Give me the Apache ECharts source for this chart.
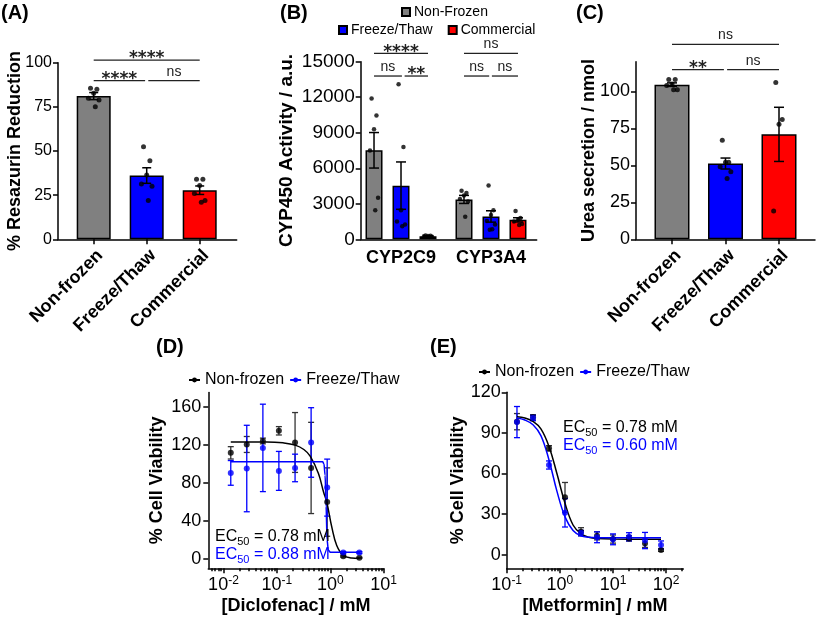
<!DOCTYPE html>
<html><head><meta charset="utf-8">
<script src="https://cdn.jsdelivr.net/npm/echarts@6/dist/echarts.min.js"></script>
<style>html,body{margin:0;padding:0;background:#fff}#c{width:817px;height:621px}</style>
</head><body><div id="c"></div>
<script>
// ---------------- DATA ----------------
const catsTop = ['Non-frozen', 'Freeze/Thaw', 'Commercial'];

// (A) % Resazurin Reduction
const A_mean = [81.1, 36.1, 27.8];
const A_sem = [2.0, 4.4, 2.4];
const A_dotsNonFrozen = [85.5, 84.9, 82.7, 79.8, 78.9, 75.0];
const A_dotsFreeze = [52.4, 44.5, 36.4, 31.3, 30.0, 21.9];
const A_dotsComm = [34, 34, 30.4, 26, 22, 21];
const A_sig = [[0, 2, 101.5, '****'], [0, 0.97, 89.8, '****'], [1.03, 2, 89.8, 'ns']];

// (B) CYP450 activity
const B_cats = ['CYP2C9', 'CYP3A4'];
const B_names = ['Non-Frozen', 'Freeze/Thaw', 'Commercial'];
const B_meanNonFrozen = [7517, 3367];
const B_meanFreeze = [4533, 1929];
const B_meanComm = [262, 1642];
const B_semNonFrozen = [1500, 340];
const B_semFreeze = [2000, 480];
const B_semComm = [40, 180];
const B_dotsNonFrozen = [[11900, 10450, 9300, 7500, 3500, 2450], [4100, 3900, 3700, 3400, 3200, 1900]];
const B_dotsFreeze = [[13100, 7800, 2450, 1500, 1250, 1100], [4550, 2450, 2050, 1550, 1250, 850, 800]];
const B_dotsComm = [[320, 300, 280, 250, 220, 200], [2400, 1800, 1650, 1500, 1300, 1200]];
const B_sig = [[-0.3, 0.3, 15700, '****'], [-0.3, 0.01, 13790, 'ns'], [0.04, 0.3, 13790, '**'],
               [0.7, 1.3, 15700, 'ns'], [0.7, 0.98, 13790, 'ns'], [1.01, 1.3, 13790, 'ns']];

// (C) Urea secretion
const C_mean = [104.5, 51.2, 70.9];
const C_sem = [1.2, 3.7, 18.3];
const C_dotsNonFrozen = [108, 108, 105, 104, 101, 101];
const C_dotsFreeze = [67, 52, 52, 49, 45.6, 41.1];
const C_dotsComm = [105.9, 80.9, 77.7, 19.1];
const C_sig = [[0, 2, 131.7, 'ns'], [0, 0.97, 114.6, '**'], [1.03, 2, 114.6, 'ns']];

// (D) Diclofenac
const D_conc = [0.0137, 0.0273, 0.0547, 0.109, 0.219, 0.4375, 0.875, 1.75, 3.5];
const D_nf = [111.5, 120.3, 124, 134.7, 122.4, 95.6, 59.7, 2.8, 1];
const D_nfErr = [6.5, 8.4, 3, 4.4, 31.5, 48, 36, 1, 0.5];
const D_ft = [90.4, 95, 116.7, 92.5, 95.6, 122.4, 74.9, 6.5, 6.5];
const D_ftErr = [13, 45.5, 46, 20.5, 14.5, 36.6, 30, 1, 1];
const D_fitNfX = [0.0137, 0.03, 0.065, 0.13, 0.22, 0.32, 0.42, 0.6, 0.75, 0.86, 1.07, 1.32, 1.76, 2.5, 3.5];
const D_fitNfY = [123, 123, 123, 122, 119.6, 115, 108, 89.7, 70, 59.7, 33, 14, 3.5, 0.8, 0.3];
const D_fitFtX = [0.0137, 0.72, 0.76, 0.8, 0.835, 0.87, 0.92, 1.0, 3.5];
const D_fitFtY = [102, 102, 100, 88, 55, 20, 9, 7, 7];
const D_ec50 = ['0.78', '0.88'];

// (E) Metformin
const E_conc = [0.156, 0.3125, 0.625, 1.25, 2.5, 5, 10, 20, 40, 80];
const E_nf = [98.3, 101.5, 78.6, 42.4, 17, 14, 11.6, 12.1, 8.4, 3.5];
const E_nfErr = [6, 2, 2, 11, 3, 3, 3, 2, 3, 1];
const E_ft = [98, 101, 66.3, 31, 16, 12.9, 11.4, 13.3, 10.5, 7.2];
const E_ftErr = [11.5, 2, 3, 10.5, 2, 4, 4, 3, 6, 3];
const E_fitX = [0.156, 0.22, 0.3125, 0.44, 0.625, 0.88, 1.25, 1.77, 2.5, 3.5, 5, 10, 80];
const E_fitNfY = [102, 101, 98.5, 93, 80, 60, 38, 22, 15.5, 13, 12, 11.6, 11.5];
const E_fitFtY = [101, 99.5, 96, 88, 70, 47, 28, 18, 14, 13, 12.6, 12.5, 12.5];
const E_ec50 = ['0.78', '0.60'];

// ---------------- STYLE / HELPERS ----------------
const FONT = "'Liberation Sans', Arial, Helvetica, sans-serif";
const COLORS = ['#808080', '#0000ff', '#ff0000'];
const BLUE = '#0000ff';
const JIT = [-0.6, 0.6, 0.0, -1.0, 1.0, 0.3, -0.3];

function errRender(capW, color, lw) {
  return function (params, api) {
    const x = api.value(0), lo = api.value(1), hi = api.value(2);
    const p1 = api.coord([x, hi]), p2 = api.coord([x, lo]);
    const st = { stroke: color, lineWidth: lw };
    return { type: 'group', children: [
      { type: 'line', shape: { x1: p1[0], y1: p1[1], x2: p2[0], y2: p2[1] }, style: st },
      { type: 'line', shape: { x1: p1[0] - capW / 2, y1: p1[1], x2: p1[0] + capW / 2, y2: p1[1] }, style: st },
      { type: 'line', shape: { x1: p2[0] - capW / 2, y1: p2[1], x2: p2[0] + capW / 2, y2: p2[1] }, style: st }
    ]};
  };
}
function sigRender(list) {
  return function (params, api) {
    const it = list[params.dataIndex];
    const a = api.coord([it[0], it[2]]), b = api.coord([it[1], it[2]]);
    const star = it[3].indexOf('*') >= 0;
    return { type: 'group', children: [
      { type: 'line', shape: { x1: a[0], y1: a[1], x2: b[0], y2: b[1] }, style: { stroke: '#222', lineWidth: 1.3 } },
      { type: 'text', style: {
        text: it[3], x: (a[0] + b[0]) / 2, y: star ? a[1] - 1 : a[1] - 2,
        align: 'center', verticalAlign: star ? 'middle' : 'bottom',
        fontFamily: star ? "'DejaVu Sans'" : FONT, fontWeight: star ? 'bold' : 'normal',
        fontSize: star ? 17 : 14, fill: '#222' } }
    ]};
  };
}
function sigSeries(list, xi, yi) {
  return { type: 'custom', xAxisIndex: xi, yAxisIndex: yi, clip: false, z: 5, silent: true,
    encode: { x: [0, 1], y: 2 }, renderItem: sigRender(list),
    data: list.map(d => [d[0], d[1], d[2]]) };
}
function errSeries(data, xi, yi, capW, color, lw, z) {
  return { type: 'custom', xAxisIndex: xi, yAxisIndex: yi, clip: false, z: z || 4, silent: true,
    encode: { x: 0, y: [1, 2] }, renderItem: errRender(capW, color, lw), data: data };
}
function dots(groups, posFn, w) {
  const out = [];
  groups.forEach((arr, g) => arr.forEach((v, i) => out.push([posFn(g) + JIT[i % JIT.length] * w, v])));
  return out;
}
const axisLine = { show: true, onZero: false, lineStyle: { color: '#000', width: 1.5 } };
const hiddenLine = { show: true, onZero: false, lineStyle: { color: 'rgba(0,0,0,0)', width: 0 } };
const axisTick = (len, extra) => Object.assign({ show: true, length: len, lineStyle: { color: '#000', width: 1.5 } }, extra || {});
const noSplit = { show: false };
const plain = v => String(v);
function logLabel(fs) {
  return {
    color: '#000', margin: 6,
    formatter: v => '{b|10}{s|' + Math.round(Math.log10(v)) + '}',
    rich: { b: { fontSize: fs, fontFamily: FONT, color: '#000', lineHeight: fs + 4 },
            s: { fontSize: Math.round(fs * 0.68), fontFamily: FONT, color: '#000', verticalAlign: 'top' } }
  };
}
function minorTicks(lo, hi) {
  const out = [];
  for (let e = -4; e <= 3; e++) for (let k = 2; k <= 9; k++) {
    const v = k * Math.pow(10, e);
    if (v > lo && v < hi) out.push(v);
  }
  return out;
}
const nameStyle = fs => ({ fontWeight: 'bold', fontSize: fs, fontFamily: FONT, color: '#000' });
const catLabel = (cats) => ({ customValues: [0, 1, 2], formatter: v => cats[Math.round(v)], rotate: 45, margin: 7,
  verticalAlign: 'top', fontWeight: 'bold', fontSize: 18, fontFamily: FONT, color: '#000' });

// ---------------- GRIDS ----------------
const grids = [
  { left: 58, top: 62.7, width: 178.7, height: 176.6 },      // A
  { left: 360.7, top: 61.7, width: 176, height: 177.6 },     // B
  { left: 636, top: 61.7, width: 179, height: 177.6 },       // C
  { left: 208.3, top: 392.5, width: 175.4, height: 175.8 },  // D
  { left: 506.7, top: 392.3, width: 176.6, height: 176 }     // E
].map(g => Object.assign({ containLabel: false, outerBoundsMode: 'none' }, g));

const A_unit = 53, A_c0 = 93.7;
const C_unit = 53.5, C_c0 = 672;
const D_min = 0.0052, D_max = 10, E_min = 0.1, E_max = 210;

const xAxes = [
  { gridIndex: 0, type: 'value', min: (58 - A_c0) / A_unit, max: (236.7 - A_c0) / A_unit,
    axisLine, splitLine: noSplit,
    axisTick: axisTick(5, { customValues: [0, 1, 2] }),
    axisLabel: catLabel(catsTop) },
  { gridIndex: 1, type: 'value', min: -0.448, max: 1.508, axisLine, splitLine: noSplit,
    axisTick: { show: false },
    axisLabel: { customValues: [0, 1], formatter: v => B_cats[Math.round(v)], margin: 10,
      fontWeight: 'bold', fontSize: 18, fontFamily: FONT, color: '#000' } },
  { gridIndex: 2, type: 'value', min: (636 - C_c0) / C_unit, max: (815 - C_c0) / C_unit,
    axisLine, splitLine: noSplit,
    axisTick: axisTick(5, { customValues: [0, 1, 2] }),
    axisLabel: catLabel(catsTop) },
  { gridIndex: 3, type: 'log', min: D_min, max: D_max, position: 'bottom', axisLine, splitLine: noSplit,
    axisTick: axisTick(5, { customValues: [0.01, 0.1, 1, 10] }),
    axisLabel: Object.assign({ customValues: [0.01, 0.1, 1, 10] }, logLabel(18)),
    name: '[Diclofenac] / mM', nameLocation: 'middle', nameGap: 29, nameTextStyle: nameStyle(18) },
  { gridIndex: 3, type: 'log', min: D_min, max: D_max, position: 'bottom', axisLine: hiddenLine,
    splitLine: noSplit, axisLabel: { show: false },
    axisTick: axisTick(3, { customValues: minorTicks(D_min, D_max) }) },
  { gridIndex: 4, type: 'log', min: E_min, max: E_max, position: 'bottom', axisLine, splitLine: noSplit,
    axisTick: axisTick(5, { customValues: [0.1, 1, 10, 100] }),
    axisLabel: Object.assign({ customValues: [0.1, 1, 10, 100] }, logLabel(18)),
    name: '[Metformin] / mM', nameLocation: 'middle', nameGap: 29, nameTextStyle: nameStyle(18) },
  { gridIndex: 4, type: 'log', min: E_min, max: E_max, position: 'bottom', axisLine: hiddenLine,
    splitLine: noSplit, axisLabel: { show: false },
    axisTick: axisTick(3, { customValues: minorTicks(E_min, E_max) }) }
];

const yAxes = [
  { gridIndex: 0, type: 'value', min: 0, max: 100, interval: 25, axisLine, axisTick: axisTick(5), splitLine: noSplit,
    axisLabel: { fontSize: 16, fontFamily: FONT, color: '#000', margin: 6, formatter: plain },
    name: '% Resazurin Reduction', nameLocation: 'middle', nameGap: 34, nameMoveOverlap: false, nameTextStyle: nameStyle(18) },
  { gridIndex: 1, type: 'value', min: 0, max: 15000, interval: 3000, axisLine, axisTick: axisTick(5), splitLine: noSplit,
    axisLabel: { fontSize: 19, fontFamily: FONT, color: '#000', margin: 6, formatter: plain },
    name: 'CYP450 Activity / a.u.', nameLocation: 'middle', nameGap: 64, nameMoveOverlap: false, nameTextStyle: nameStyle(19) },
  { gridIndex: 2, type: 'value', min: 0, max: 120, axisLine, splitLine: noSplit,
    axisTick: axisTick(5, { customValues: [0, 25, 50, 75, 100] }),
    axisLabel: { customValues: [0, 25, 50, 75, 100], fontSize: 18, fontFamily: FONT, color: '#000', margin: 6, formatter: plain },
    name: 'Urea secretion / nmol', nameLocation: 'middle', nameGap: 38, nameMoveOverlap: false, nameTextStyle: nameStyle(18) },
  { gridIndex: 3, type: 'value', min: -10, max: 175, axisLine, splitLine: noSplit,
    axisTick: axisTick(5, { customValues: [0, 40, 80, 120, 160] }),
    axisLabel: { customValues: [0, 40, 80, 120, 160], fontSize: 18, fontFamily: FONT, color: '#000', margin: 7, formatter: plain },
    name: '% Cell Viability', nameLocation: 'middle', nameGap: 42, nameMoveOverlap: false, nameTextStyle: nameStyle(18) },
  { gridIndex: 4, type: 'value', min: -10, max: 120, axisLine, splitLine: noSplit,
    axisTick: axisTick(5, { customValues: [0, 30, 60, 90, 120] }),
    axisLabel: { customValues: [0, 30, 60, 90, 120], fontSize: 18, fontFamily: FONT, color: '#000', margin: 6, formatter: plain },
    name: '% Cell Viability', nameLocation: 'middle', nameGap: 40, nameMoveOverlap: false, nameTextStyle: nameStyle(18) }
];

// ---------------- SERIES ----------------
const series = [];
const barBorder = { borderColor: '#000', borderWidth: 1.5 };

// A
series.push({ name: 'A|bars', type: 'bar', xAxisIndex: 0, yAxisIndex: 0, barWidth: 34, z: 2,
  data: A_mean.map((m, i) => ({ value: [i, m], itemStyle: Object.assign({ color: COLORS[i] }, barBorder) })) });
series.push(errSeries(A_mean.map((m, i) => [i, m - A_sem[i], m + A_sem[i]]), 0, 0, 9, '#000', 1.5));
series.push({ name: 'A|dots', type: 'scatter', xAxisIndex: 0, yAxisIndex: 0, symbolSize: 5, z: 6,
  itemStyle: { color: '#000' }, data: dots([A_dotsNonFrozen, A_dotsFreeze, A_dotsComm], g => g, 0.1) });
series.push(sigSeries(A_sig, 0, 0));

// B
const B_means = [B_meanNonFrozen, B_meanFreeze, B_meanComm];
const B_sems = [B_semNonFrozen, B_semFreeze, B_semComm];
const B_dotsAll = [B_dotsNonFrozen, B_dotsFreeze, B_dotsComm];
const B_off = [-0.3, 0, 0.3];
B_names.forEach((nm, s) => {
  series.push({ name: nm, type: 'bar', xAxisIndex: 1, yAxisIndex: 1, barWidth: 17, barGap: '-100%', z: 2,
    itemStyle: Object.assign({ color: COLORS[s] }, barBorder),
    data: B_means[s].map((m, g) => [g + B_off[s], m]) });
  series.push(errSeries(B_means[s].map((m, g) => [g + B_off[s], m - B_sems[s][g], m + B_sems[s][g]]), 1, 1, 10, '#000', 1.5));
  series.push({ name: 'B|dots' + s, type: 'scatter', xAxisIndex: 1, yAxisIndex: 1, symbolSize: 4.5, z: 6,
    itemStyle: { color: '#000' }, data: dots(B_dotsAll[s], g => g + B_off[s], 0.045) });
});
series.push(sigSeries(B_sig, 1, 1));

// C
series.push({ name: 'C|bars', type: 'bar', xAxisIndex: 2, yAxisIndex: 2, barWidth: 35, z: 2,
  data: C_mean.map((m, i) => ({ value: [i, m], itemStyle: Object.assign({ color: COLORS[i] }, barBorder) })) });
series.push(errSeries(C_mean.map((m, i) => [i, m - C_sem[i], m + C_sem[i]]), 2, 2, 10, '#000', 1.5));
series.push({ name: 'C|dots', type: 'scatter', xAxisIndex: 2, yAxisIndex: 2, symbolSize: 5, z: 6,
  itemStyle: { color: '#000' }, data: dots([C_dotsNonFrozen, C_dotsFreeze, C_dotsComm], g => g, 0.1) });
series.push(sigSeries(C_sig, 2, 2));

// D / E
function doseSeries(prefix, xi, yi, conc, nf, nfErr, ft, ftErr, fitNfX, fitNfY, fitFtX, fitFtY, ftMono) {
  const out = [];
  out.push(errSeries(conc.map((c, i) => [c, nf[i] - nfErr[i], nf[i] + nfErr[i]]), xi, yi, 6, '#333', 1.3, 3));
  out.push(errSeries(conc.map((c, i) => [c, ft[i] - ftErr[i], ft[i] + ftErr[i]]), xi, yi, 6, BLUE, 1.3, 3));
  out.push({ name: prefix + '|Non-frozen', type: 'line', xAxisIndex: xi, yAxisIndex: yi, symbol: 'circle',
    showSymbol: false, smooth: 0.4, z: 4, color: '#000',
    lineStyle: { color: '#000', width: 1.5 }, data: fitNfX.map((x, i) => [x, fitNfY[i]]) });
  out.push(Object.assign({ name: prefix + '|Freeze/Thaw', type: 'line', xAxisIndex: xi, yAxisIndex: yi, symbol: 'circle',
    showSymbol: false, smooth: ftMono ? 0.3 : 0.4, z: 4, color: BLUE,
    lineStyle: { color: BLUE, width: 1.5 }, data: fitFtX.map((x, i) => [x, fitFtY[i]]) },
    ftMono ? { smoothMonotone: 'x' } : {}));
  out.push({ name: prefix + '|ptsNF', type: 'scatter', xAxisIndex: xi, yAxisIndex: yi, symbolSize: 6, z: 6,
    itemStyle: { color: '#000' }, data: conc.map((c, i) => [c, nf[i]]) });
  out.push({ name: prefix + '|ptsFT', type: 'scatter', xAxisIndex: xi, yAxisIndex: yi, symbolSize: 6, z: 6,
    itemStyle: { color: BLUE }, data: conc.map((c, i) => [c, ft[i]]) });
  return out;
}
series.push(...doseSeries('D', 3, 3, D_conc, D_nf, D_nfErr, D_ft, D_ftErr, D_fitNfX, D_fitNfY, D_fitFtX, D_fitFtY, true));
series.push(...doseSeries('E', 5, 4, E_conc, E_nf, E_nfErr, E_ft, E_ftErr, E_fitX, E_fitNfY, E_fitX, E_fitFtY, false));

// ---------------- LEGENDS & TEXT ----------------
const legFmt = n => n.split('|').pop();
const legends = [
  { data: ['Non-Frozen'], left: 401, top: 5, padding: 0, icon: 'rect', itemWidth: 8, itemHeight: 8, itemGap: 15,
    selectedMode: false, formatter: legFmt, textStyle: { fontSize: 14, fontFamily: FONT, color: '#000', padding: [0, 0, 0, -1] } },
  { data: ['Freeze/Thaw', 'Commercial'], left: 338, top: 23, padding: 0, icon: 'rect', itemWidth: 8, itemHeight: 8, itemGap: 15,
    selectedMode: false, formatter: legFmt, textStyle: { fontSize: 14, fontFamily: FONT, color: '#000', padding: [0, 0, 0, -1] } },
  { data: ['D|Non-frozen', 'D|Freeze/Thaw'], left: 188, top: 372, padding: 0, itemWidth: 11, itemHeight: 6, itemGap: 5,
    selectedMode: false, formatter: legFmt, textStyle: { fontSize: 16, fontFamily: FONT, color: '#000' } },
  { data: ['E|Non-frozen', 'E|Freeze/Thaw'], left: 478, top: 364, padding: 0, itemWidth: 11, itemHeight: 6, itemGap: 5,
    selectedMode: false, formatter: legFmt, textStyle: { fontSize: 16, fontFamily: FONT, color: '#000' } }
];

const ecRich = { n: { fontSize: 16, fontFamily: FONT, lineHeight: 20 }, s: { fontSize: 11, fontFamily: FONT, verticalAlign: 'bottom' } };
function ecText(left, top, val, color) {
  return { type: 'text', left: left, top: top, z: 100,
    style: { text: '{n|EC}{s|50}{n| = ' + val + ' mM}', rich: ecRich, fill: color } };
}
function panelLabel(left, top, t) {
  return { type: 'text', left: left, top: top, z: 100,
    style: { text: t, fontSize: 20, fontWeight: 'bold', fontFamily: FONT, fill: '#000' } };
}
const graphic = [
  panelLabel(1, 3, '(A)'), panelLabel(280, 3, '(B)'), panelLabel(576, 3, '(C)'),
  panelLabel(156, 337, '(D)'), panelLabel(430, 337, '(E)'),
  ecText(215, 529, D_ec50[0], '#000'), ecText(215, 547, D_ec50[1], BLUE),
  ecText(563, 420, E_ec50[0], '#000'), ecText(563, 438, E_ec50[1], BLUE)
];

const chart = echarts.init(document.getElementById('c'));
chart.setOption({
  animation: false,
  backgroundColor: '#fff',
  textStyle: { fontFamily: FONT },
  grid: grids, xAxis: xAxes, yAxis: yAxes, series: series, legend: legends, graphic: graphic
});
</script></body></html>
